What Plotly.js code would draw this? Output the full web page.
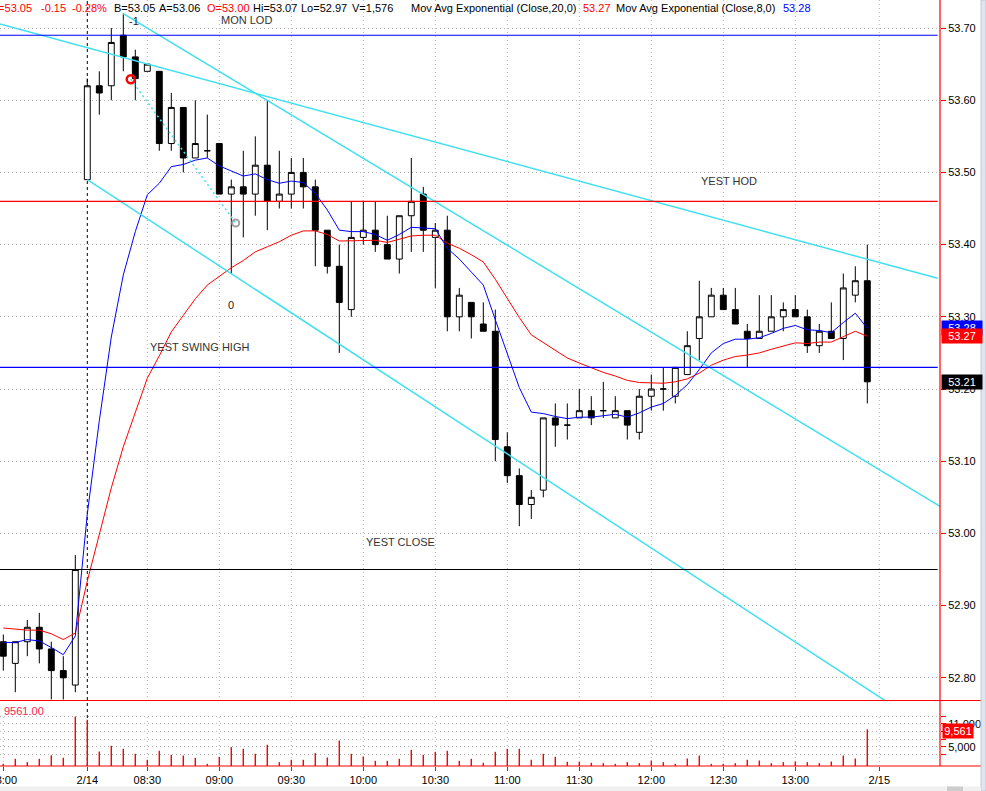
<!DOCTYPE html>
<html><head><meta charset="utf-8">
<script src="https://cdn.plot.ly/plotly-3.0.1.min.js"></script>
<style>html,body{margin:0;padding:0;background:#fff;overflow:hidden}#chart{width:986px;height:791px}</style>
</head><body><div id="chart"></div>
<script>
// ---------- DATA ----------
const barTimes = ("13:00 13:05 13:10 13:15 13:20 13:25 13:30 " +
  "08:05 08:10 08:15 08:20 08:25 08:30 08:35 08:40 08:45 08:50 08:55 " +
  "09:00 09:05 09:10 09:15 09:20 09:25 09:30 09:35 09:40 09:45 09:50 09:55 " +
  "10:00 10:05 10:10 10:15 10:20 10:25 10:30 10:35 10:40 10:45 10:50 10:55 " +
  "11:00 11:05 11:10 11:15 11:20 11:25 11:30 11:35 11:40 11:45 11:50 11:55 " +
  "12:00 12:05 12:10 12:15 12:20 12:25 12:30 12:35 12:40 12:45 12:50 12:55 " +
  "13:00 13:05 13:10 13:15 13:20 13:25 13:30").split(" ");

const opens = [52.85,52.82,52.85,52.87,52.84,52.81,52.79, 53.49,53.62,53.62,53.69,53.66,53.64,53.64,53.54,53.59,53.52,
  53.53,53.54,53.47,53.48,53.47,53.51,53.46,53.47,53.50,53.48, 53.42,53.37,53.31,53.41,53.42,53.40,53.38,53.44,53.47,53.41,
  53.42,53.30,53.32,53.29,53.28,53.12,53.08,53.04,53.06,53.16, 53.15,53.16,53.17,53.17,53.16,53.17,53.14,53.19,53.20,53.19,
  53.22,53.27,53.30,53.33,53.31,53.28,53.27,53.28,53.30,53.31, 53.30,53.26,53.28,53.27,53.33,53.35];
const highs = [52.86,52.85,52.88,52.89,52.85,52.83,52.97, 53.63,53.64,53.70,53.72,53.67,53.65,53.64,53.61,53.59,53.60,
  53.58,53.54,53.49,53.53,53.55,53.60,53.53,53.52,53.52,53.49, 53.42,53.40,53.46,53.46,53.46,53.44,53.44,53.52,53.48,53.43,
  53.44,53.34,53.32,53.32,53.31,53.14,53.09,53.06,53.16,53.18, 53.18,53.20,53.19,53.21,53.19,53.17,53.20,53.22,53.23,53.23,
  53.28,53.35,53.34,53.34,53.34,53.29,53.33,53.33,53.32,53.33, 53.31,53.29,53.32,53.36,53.37,53.40];
const lows = [52.81,52.78,52.83,52.82,52.77,52.77,52.78, 53.49,53.58,53.60,53.64,53.60,53.64,53.53,53.53,53.50,53.52,
  53.52,53.47,53.36,53.41,53.44,53.42,53.45,53.45,53.45,53.37, 53.36,53.25,53.30,53.40,53.39,53.38,53.36,53.39,53.39,53.34,
  53.28,53.28,53.27,53.28,53.10,53.07,53.01,53.02,53.05,53.12, 53.13,53.16,53.15,53.16,53.16,53.13,53.13,53.17,53.17,53.18,
  53.22,53.24,53.30,53.31,53.29,53.23,53.27,53.28,53.28,53.30, 53.25,53.25,53.27,53.24,53.32,53.18];
const closes = [52.83,52.85,52.87,52.84,52.81,52.80,52.95, 53.62,53.61,53.68,53.66,53.63,53.65,53.54,53.59,53.52,53.54,
  53.53,53.47,53.48,53.47,53.51,53.46,53.47,53.50,53.48,53.42, 53.37,53.32,53.41,53.42,53.40,53.38,53.44,53.46,53.42,53.42,
  53.30,53.33,53.30,53.28,53.13,53.08,53.04,53.05,53.16,53.15, 53.15,53.17,53.16,53.17,53.17,53.15,53.19,53.20,53.20,53.23,
  53.26,53.30,53.33,53.31,53.29,53.27,53.28,53.30,53.31,53.30, 53.26,53.28,53.27,53.34,53.35,53.21];

const ema20 = [52.869,52.867,52.866,52.866,52.861,52.853,52.862, 52.934,52.998,53.063,53.120,53.169,53.215,53.246,53.279,53.302,53.325,
  53.344,53.356,53.368,53.378,53.390,53.397,53.404,53.413,53.419,53.419, 53.414,53.405,53.405,53.406,53.406,53.403,53.407,53.412,53.413,53.413,
  53.402,53.395,53.386,53.376,53.352,53.326,53.299,53.275,53.264,53.253, 53.243,53.236,53.229,53.223,53.218,53.212,53.209,53.209,53.208,53.210,
  53.214,53.222,53.233,53.240,53.245,53.247,53.250,53.255,53.260,53.264, 53.263,53.265,53.265,53.272,53.280,53.273];
const ema8 = [52.849,52.849,52.853,52.851,52.842,52.832,52.858, 53.027,53.156,53.272,53.358,53.418,53.469,53.485,53.508,53.511,53.517,
  53.520,53.509,53.502,53.495,53.498,53.490,53.485,53.488,53.486,53.471, 53.448,53.420,53.418,53.418,53.414,53.406,53.414,53.424,53.423,53.422,
  53.395,53.380,53.362,53.344,53.296,53.248,53.202,53.168,53.166,53.162, 53.159,53.161,53.161,53.163,53.165,53.161,53.167,53.175,53.180,53.191,
  53.206,53.227,53.250,53.263,53.269,53.269,53.271,53.277,53.284,53.288, 53.282,53.281,53.278,53.292,53.305,53.284];

const volumes = [570,1880,1010,1880,2800,2140,12910, 12050,3790,5270,4490,3180,1620,3970,2920,2740,2140,
  570,2400,4930,4490,3180,5530,1010,1620,1620,3360, 2220,6650,3180,2480,1360,1360,1880,4230,2920,3700,
  3970,1360,1880,830,3700,4490,4490,1620,3180,2400, 1100,1100,830,750,570,1010,750,1430,1010,570,
  1960,2740,570,570,750,1620,1430,750,1010,1170, 1010,750,1170,2740,1960,9561];

const tickPos  = [0,7,12,18,24,30,36,42,48,54,60,66,73];
const tickText = ["13:00","2/14","08:30","09:00","09:30","10:00","10:30","11:00","11:30","12:00","12:30","13:00","2/15"];
const priceTicks = [52.80,52.90,53.00,53.10,53.20,53.30,53.40,53.50,53.60,53.70];
const volTicks = [3000,5000,7000,9000,11000,13000];
const volTickText = ["","5,000","","","11,000",""];

const levelNames  = ["MON LOD","YEST HOD","YEST SWING HIGH","YEST CLOSE"];
const levelPrices = [53.69, 53.46, 53.23, 52.95];

const trendX0 = [-0.275, 10, 7];
const trendY0 = [53.7055, 53.72, 53.49];
const trendX1 = [77.87, 78.06, 73.42];
const trendY1 = [53.3533, 53.0375, 52.769];

const zigzagX = [10.62, 19.37];
const zigzagY = [53.629, 53.430];
const zigzagLabels = ["-1", "0"];
const zigzagBars = [10, 19];

const headerTexts = ["L=53.05","-0.15","-0.28%","B=53.05","A=53.06","O=53.00","Hi=53.07","Lo=52.97","V=1,576",
  "Mov Avg Exponential (Close,20,0)", ema20[ema20.length-1].toFixed(2),
  "Mov Avg Exponential (Close,8,0)", ema8[ema8.length-1].toFixed(2)];

// ---------- LAYOUT / STYLE ----------
const W = 986, H = 791, ML = 0, MR = 46, MT = 0, MB = 25;
const PW = W - ML - MR, PH = H - MT - MB;
const px = v => v / PW;              // horizontal pixel -> paper
const py = v => (PH - v) / PH;       // vertical pixel (from top) -> paper
const FONT = "Liberation Sans, Arial, sans-serif";
const CYAN = "#40e0f0";
const xIdx = barTimes.map((t, i) => i);
const N = barTimes.length;

const traces = [];
traces.push({
  type: "candlestick", x: xIdx, open: opens, high: highs, low: lows, close: closes,
  xaxis: "x", yaxis: "y", whiskerwidth: 0,
  increasing: {line: {color: "#000", width: 1}, fillcolor: "#fff"},
  decreasing: {line: {color: "#000", width: 1}, fillcolor: "#000"},
  hoverinfo: "skip"
});
traces.push({type: "scatter", mode: "lines", x: xIdx, y: ema20, line: {color: "#ff0000", width: 1}, xaxis: "x", yaxis: "y"});
traces.push({type: "scatter", mode: "lines", x: xIdx, y: ema8, line: {color: "#0000ff", width: 1}, xaxis: "x", yaxis: "y"});
for (let i = 0; i < trendX0.length; i++) {
  traces.push({type: "scatter", mode: "lines", x: [trendX0[i], trendX1[i]], y: [trendY0[i], trendY1[i]],
    line: {color: CYAN, width: 1.5}, xaxis: "x", yaxis: "y"});
}
traces.push({type: "scatter", mode: "lines", x: zigzagX, y: zigzagY,
  line: {color: CYAN, width: 1.5, dash: "2px,3px"}, xaxis: "x", yaxis: "y"});
traces.push({type: "scatter", mode: "markers", x: [zigzagX[0]], y: [zigzagY[0]],
  marker: {symbol: "circle-open", size: 8, color: "#ff0000", line: {width: 2.5, color: "#ff0000"}}, xaxis: "x", yaxis: "y"});
traces.push({type: "scatter", mode: "markers", x: [zigzagX[1]], y: [zigzagY[1]],
  marker: {symbol: "circle-open", size: 7, color: "#a0a0a0", line: {width: 2, color: "#a0a0a0"}}, xaxis: "x", yaxis: "y"});
traces.push({type: "bar", x: xIdx, y: volumes, width: 0.12, marker: {color: "#ff0000", line: {width: 0}},
  xaxis: "x", yaxis: "y2"});

const shapes = [];
// vertical dotted grid (price panel)
tickPos.forEach(k => {
  if (k === 0 || k === 7) return;
  shapes.push({type: "line", xref: "x", yref: "y", x0: k, x1: k, y0: 52.7679, y1: 53.7388,
    line: {color: "#b4b4b4", width: 1, dash: "1px,3px"}, layer: "below"});
});
// vertical dotted grid (volume panel)
tickPos.forEach(k => {
  if (k === 7) return;
  shapes.push({type: "line", xref: "x", yref: "y2", x0: k, x1: k, y0: 0, y1: 13100,
    line: {color: "#b4b4b4", width: 1, dash: "1px,3px"}, layer: "below"});
});
// day separator
shapes.push({type: "line", xref: "x", yref: "paper", x0: 7, x1: 7, y0: 0, y1: 1,
  line: {color: "#000", width: 1, dash: "3px,3px"}, layer: "below"});
// level lines
const levelColors = ["#0000ff", "#ff0000", "#0000ff", "#000000"];
levelPrices.forEach((p, i) => {
  shapes.push({type: "line", xref: "paper", yref: "y", x0: 0, x1: 937.7 / PW, y0: p, y1: p,
    line: {color: levelColors[i], width: 1.2}, layer: "above"});
});
// panel borders
shapes.push({type: "line", xref: "paper", yref: "paper", x0: 0, x1: W / PW, y0: py(700.5), y1: py(700.5),
  line: {color: "#ff0000", width: 1.2}});
shapes.push({type: "line", xref: "paper", yref: "paper", x0: 0, x1: 981 / PW, y0: py(766), y1: py(766),
  line: {color: "#ff0000", width: 1.2}});
shapes.push({type: "line", xref: "paper", yref: "paper", x0: 1, x1: 1, y0: py(766), y1: 1,
  line: {color: "#ff0000", width: 1.2}});
// window chrome strips
shapes.push({type: "rect", xref: "paper", yref: "paper", x0: 981 / PW, x1: W / PW, y0: py(H), y1: py(0),
  fillcolor: "#dfe5ee", line: {color: "#c4c8d0", width: 1}});
shapes.push({type: "rect", xref: "paper", yref: "paper", x0: 0, x1: 981 / PW, y0: py(H), y1: py(786.5),
  fillcolor: "#f0f0f0", line: {width: 0}});
shapes.push({type: "rect", xref: "paper", yref: "paper", x0: 947 / PW, x1: 963 / PW, y0: py(H), y1: py(786.5),
  fillcolor: "#cdcdcd", line: {width: 0}});

const annotations = [];
// header
const headerX = [33, 40, 71, 113, 158, 206, 252, 300, 351, 410, 582, 615, 782];
const headerColors = ["#ff0000","#ff0000","#ff0000","#000","#000","#ff0000","#000","#000","#000","#000","#ff0000","#000","#0000ff"];
headerTexts.forEach((t, i) => {
  annotations.push({xref: "paper", yref: "paper", x: px(headerX[i]), y: py(8), text: t,
    xanchor: i === 0 ? "right" : "left", yanchor: "middle", showarrow: false, borderpad: 0,
    font: {family: FONT, size: 11, color: headerColors[i]}});
});
// level labels
const levelLabelX = [20.28, 60.48, 16.39, 33.06];
const levelLabelShift = [15, 20, 20, 28];
levelNames.forEach((n, i) => {
  annotations.push({xref: "x", yref: "y", x: levelLabelX[i], y: levelPrices[i], yshift: levelLabelShift[i],
    text: n, showarrow: false, xanchor: "center", yanchor: "middle",
    font: {family: FONT, size: 11, color: "#333"}});
});
// zigzag labels
const zzShiftX = [10.7, -0.6], zzShiftY = [-7, -31.5];
zigzagLabels.forEach((t, i) => {
  const b = zigzagBars[i];
  annotations.push({xref: "x", yref: "y", x: b, y: i === 0 ? highs[b] : lows[b],
    xshift: zzShiftX[i], yshift: zzShiftY[i], text: t, showarrow: false,
    font: {family: FONT, size: 11, color: "#222"}});
});
// right axis value boxes
const boxes = [
  [ema8[N-1], "#0000ff", "y"],
  [ema20[N-1], "#ff0000", "y"],
  [closes[N-1], "#000000", "y"]
];
boxes.forEach(b => {
  annotations.push({xref: "paper", yref: b[2], x: px(941), y: b[0], xanchor: "left", yanchor: "middle",
    text: b[0].toFixed(2), showarrow: false, bgcolor: b[1], width: 38, height: 12, borderpad: 1, align: "center",
    font: {family: FONT, size: 11, color: "#fff"}});
});
annotations.push({xref: "paper", yref: "y2", x: px(942), y: volumes[N-1], yshift: -2, xanchor: "left", yanchor: "middle",
  text: volumes[N-1].toLocaleString("en-US"), showarrow: false, bgcolor: "#ff0000", width: 28, height: 12, borderpad: 1,
  align: "center", font: {family: FONT, size: 11, color: "#fff"}});
annotations.push({xref: "paper", yref: "paper", x: px(3), y: py(711), xanchor: "left", yanchor: "middle",
  text: volumes[N-1].toFixed(2), showarrow: false, borderpad: 0,
  font: {family: FONT, size: 11, color: "#ff2050"}});

const layout = {
  width: W, height: H, margin: {l: ML, r: MR, t: MT, b: MB, pad: 0},
  paper_bgcolor: "#fff", plot_bgcolor: "#fff", showlegend: false,
  font: {family: FONT, size: 11, color: "#000"},
  xaxis: {
    type: "linear", range: [-0.275, 78.058], anchor: "y2", rangeslider: {visible: false},
    tickvals: tickPos, ticktext: tickText, showgrid: false, zeroline: false, showline: false,
    ticks: "outside", ticklen: 4, tickcolor: "#ff0000", tickwidth: 1, ticklabeloverflow: "allow",
    tickfont: {family: FONT, size: 11, color: "#000"}, fixedrange: true
  },
  yaxis: {
    domain: [py(701), 1], range: [52.7679, 53.7388], side: "right", anchor: "x",
    tickvals: priceTicks, tickformat: ".2f", ticks: "outside", ticklen: 5, tickcolor: "#ff0000",
    showgrid: true, gridcolor: "#b4b4b4", griddash: "1px,3px", gridwidth: 1, zeroline: false, showline: false,
    tickfont: {family: FONT, size: 11, color: "#000"}, fixedrange: true
  },
  yaxis2: {
    domain: [0, py(702)], range: [0, 16700], side: "right", anchor: "x",
    tickvals: volTicks, ticktext: volTickText, ticks: "outside", ticklen: 5, tickcolor: "#ff0000",
    showgrid: true, gridcolor: "#b4b4b4", griddash: "1px,3px", gridwidth: 1, zeroline: false, showline: false,
    tickfont: {family: FONT, size: 11, color: "#000"}, fixedrange: true
  },
  shapes: shapes, annotations: annotations
};

Plotly.newPlot("chart", traces, layout, {staticPlot: true, displayModeBar: false});
</script>
</body></html>
